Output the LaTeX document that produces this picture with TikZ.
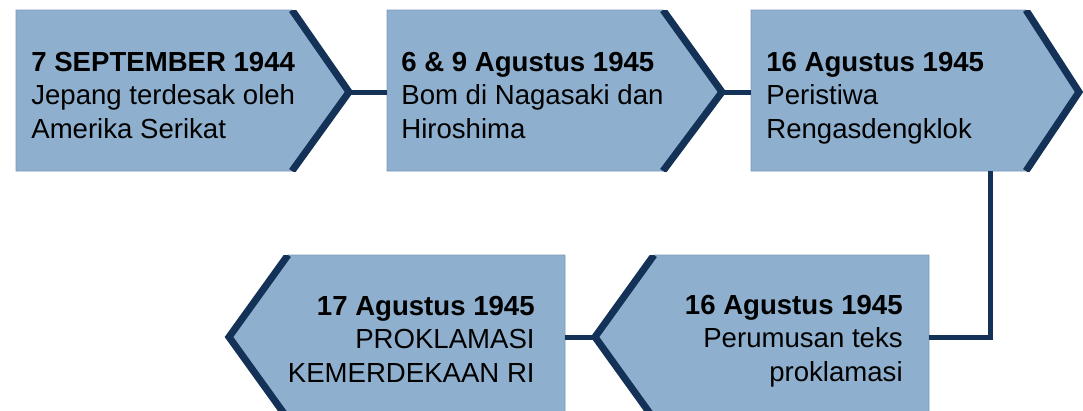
\documentclass[tikz,border=0pt]{standalone}
\usepackage{fontspec}
\setmainfont{Liberation Sans}
\definecolor{boxfill}{RGB}{142,176,206}
\definecolor{boxedge}{RGB}{122,152,186}
\definecolor{navy}{RGB}{20,49,88}
\begin{document}
\begin{tikzpicture}[x=0.02cm,y=-0.02cm,
  boxbody/.style={fill=boxfill,draw=boxedge,line width=0.4pt},
  chev/.style={draw=navy,line width=4pt,line join=miter},
  conn/.style={draw=navy,line width=2.85pt},
  lbl/.style={inner sep=0pt,font=\fontsize{15.7pt}{18.8pt}\selectfont},
  lblL/.style={lbl,anchor=base west,align=left},
  lblR/.style={lbl,anchor=base east,align=right}]
\useasboundingbox (0,0) rectangle (1083,410);

% ---------- top row ----------
% box 1
\path[boxbody] (16,10) -- (292,10) -- (349,92) -- (292,171) -- (16,171) -- cycle;
\begin{scope}
  \clip (0,10) rectangle (1083,171);
  \draw[chev] (292,10) -- (349,92) -- (292,171);
\end{scope}
% box 2
\path[boxbody] (387,10) -- (663,10) -- (722,92) -- (663,171) -- (387,171) -- cycle;
\begin{scope}
  \clip (0,10) rectangle (1083,171);
  \draw[chev] (663,10) -- (722,92) -- (663,171);
\end{scope}
% box 3
\path[boxbody] (751,10) -- (1026,10) -- (1079,92) -- (1026,171) -- (751,171) -- cycle;
\begin{scope}
  \clip (0,10) rectangle (1083,171);
  \draw[chev] (1026,10) -- (1079,92) -- (1026,171);
\end{scope}

% ---------- bottom row ----------
% box 5
\path[boxbody] (929,255) -- (654,255) -- (595,337) -- (654,419) -- (929,419) -- cycle;
\begin{scope}
  \clip (0,255) rectangle (1083,419);
  \draw[chev] (654,255) -- (595,337) -- (654,419);
\end{scope}
% box 4
\path[boxbody] (565,255) -- (288,255) -- (229,337) -- (288,419) -- (565,419) -- cycle;
\begin{scope}
  \clip (0,255) rectangle (1083,419);
  \draw[chev] (288,255) -- (229,337) -- (288,419);
\end{scope}

% ---------- connector end points ----------
\coordinate (tip1) at (349,92);
\coordinate (in2) at (387,92);
\coordinate (tip2) at (722,92);
\coordinate (in3) at (751,92);
\coordinate (out3) at (990,171);
\coordinate (in5) at (929,337.5);
\coordinate (tip5) at (595,337);
\coordinate (in4) at (565,337);

\draw[conn] (tip1) -- (in2);
\draw[conn] (tip2) -- (in3);
\draw[conn] (out3) |- (in5);
\draw[conn] (tip5) -- (in4);

% ---------- texts (base anchor = last line) ----------
\node[lblL] (t1) at (31,138) {\textbf{7 SEPTEMBER 1944}\\Jepang terdesak oleh\\Amerika Serikat};
\node[lblL] (t2) at (401,138) {\textbf{6 \& 9 Agustus 1945}\\Bom di Nagasaki dan\\Hiroshima};
\node[lblL] (t3) at (766,138) {\textbf{16 Agustus 1945}\\Peristiwa\\Rengasdengklok};
\node[lblR] (t5) at (903,381) {\textbf{16 Agustus 1945}\\Perumusan teks\\proklamasi};
\node[lblR] (t4) at (535,382) {\textbf{17 Agustus 1945}\\PROKLAMASI\\KEMERDEKAAN RI};
\end{tikzpicture}
\end{document}
